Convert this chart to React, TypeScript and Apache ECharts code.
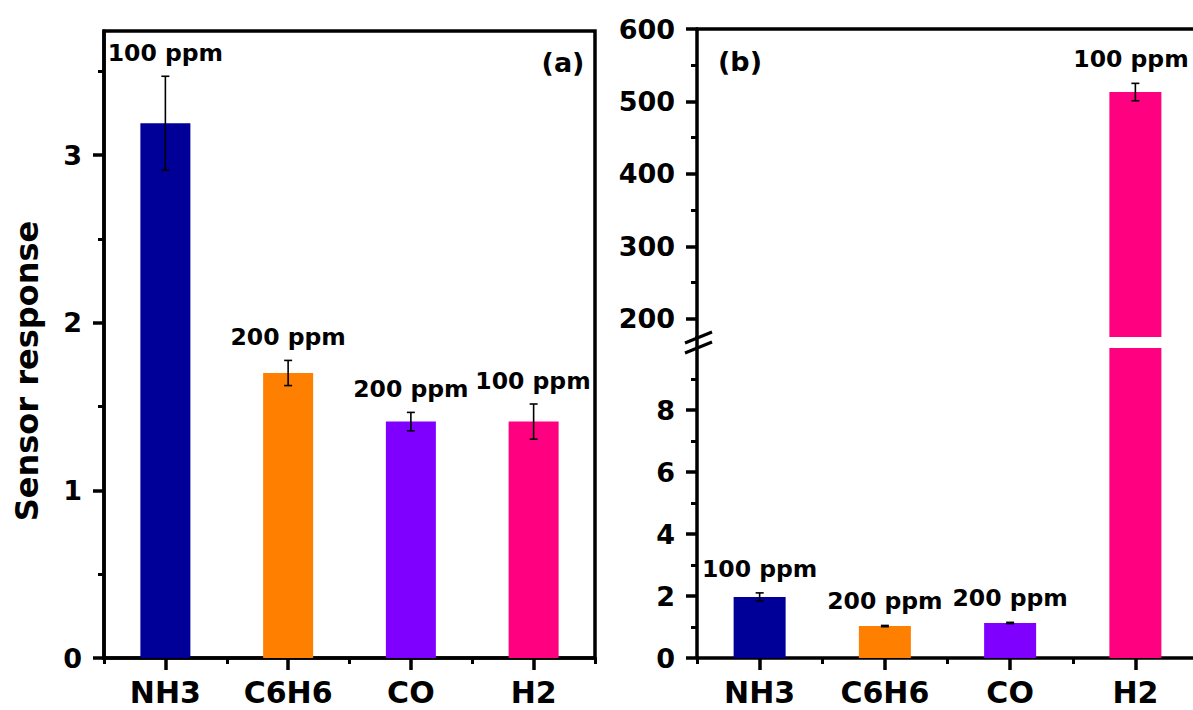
import React, { useEffect, useRef } from 'react';
import * as echarts from 'echarts';

const categories = ['NH3', 'C6H6', 'CO', 'H2'];
const concentrations = ['100 ppm', '200 ppm', '200 ppm', '100 ppm'];
const barColors = ['#000099', '#FF8000', '#8000FF', '#FF0080'];

// panel (a)
const responseA = [3.19, 1.7, 1.41, 1.41];
const errorA = [0.28, 0.075, 0.055, 0.105];
const ticksA = [0, 1, 2, 3];
const minorTicksA = [0.5, 1.5, 2.5, 3.5];

// panel (b)
const responseB = [1.97, 1.03, 1.13, 513];
const errorB = [0.13, 0.02, 0.02, 12];
const ticksBHigh = [200, 300, 400, 500, 600];
const minorTicksBHigh = [250, 350, 450, 550];
const ticksBLow = [0, 2, 4, 6, 8];
const minorTicksBLow = [1, 3, 5, 7, 9];

const FONT = 'DejaVu Sans';
const AXW = 3.5;
const LABEL_FONT_SIZE = 23.5;

function makeErrorRender(labels: string[], dy: number) {
  return (params: any, api: any) => {
    const i = api.value(0);
    const v = api.value(1);
    const e = api.value(2);
    const cs = params.coordSys;
    const top = api.coord([i, v + e]);
    const bot = api.coord([i, v - e]);
    if (top[1] < cs.y - 2 || top[1] > cs.y + cs.height + 2) return null;
    const cap = 4;
    const x = top[0];
    const text = labels[params.dataIndex];
    const halfW = echarts.format.getTextRect
      ? 0
      : 0;
    const tw = (echarts as any).format && (echarts as any).format.getTextRect
      ? 0
      : 0;
    void halfW; void tw;
    const estHalf = 58;
    const rightLimit = Math.min(cs.x + cs.width, api.getWidth()) - 4 - estHalf;
    const lx = Math.min(x, rightLimit);
    return {
      type: 'group',
      children: [
        { type: 'line', shape: { x1: x, y1: top[1], x2: x, y2: bot[1] }, style: { stroke: '#000', lineWidth: 1.6 } },
        { type: 'line', shape: { x1: x - cap, y1: top[1], x2: x + cap, y2: top[1] }, style: { stroke: '#000', lineWidth: 1.6 } },
        { type: 'line', shape: { x1: x - cap, y1: bot[1], x2: x + cap, y2: bot[1] }, style: { stroke: '#000', lineWidth: 1.6 } },
        {
          type: 'text',
          x: lx,
          y: top[1] - dy,
          style: {
            text,
            fill: '#000',
            font: `bold ${LABEL_FONT_SIZE}px "${FONT}"`,
            align: 'center',
            verticalAlign: 'middle',
          },
        },
      ],
    };
  };
}

const catAxisMajor = (gridIndex: number) => ({
  type: 'category',
  gridIndex,
  data: categories,
  position: 'bottom',
  axisLine: { show: true, lineStyle: { color: '#000', width: AXW } },
  axisTick: { show: true, alignWithLabel: true, length: 12, lineStyle: { color: '#000', width: AXW } },
  axisLabel: { show: true, color: '#000', fontSize: 30, fontWeight: 'bold', fontFamily: FONT, margin: 19 },
  splitLine: { show: false },
});

const catAxisMinor = (gridIndex: number) => ({
  type: 'category',
  gridIndex,
  data: categories,
  position: 'bottom',
  axisLine: { show: false },
  axisTick: { show: true, length: 6, lineStyle: { color: '#000', width: 3 } },
  axisLabel: { show: false },
  splitLine: { show: false },
});

const valAxisMajor = (gridIndex: number, min: number, max: number, ticks: number[]) => ({
  type: 'value',
  gridIndex,
  position: 'left',
  min,
  max,
  axisLine: { show: true, lineStyle: { color: '#000', width: AXW } },
  axisTick: { show: true, customValues: ticks, length: 11, lineStyle: { color: '#000', width: AXW } },
  axisLabel: { show: true, customValues: ticks, color: '#000', fontSize: 27, fontWeight: 'bold', fontFamily: FONT, margin: 22 },
  splitLine: { show: false },
});

const valAxisMinor = (gridIndex: number, min: number, max: number, ticks: number[]) => ({
  type: 'value',
  gridIndex,
  position: 'left',
  offset: 0,
  min,
  max,
  axisLine: { show: false },
  axisTick: { show: true, inside: false, customValues: ticks, length: 6, lineStyle: { color: '#000', width: 3 } },
  axisLabel: { show: false },
  splitLine: { show: false },
});

export default function App() {
  const ref = useRef<HTMLDivElement>(null);

  useEffect(() => {
    document.body.style.margin = '0';
    if (!ref.current) return;
    const chart = echarts.init(ref.current, null, { renderer: 'svg' });

    const barDataA = responseA.map((v, i) => ({ value: v, itemStyle: { color: barColors[i] } }));
    const barDataB = responseB.map((v, i) => ({ value: v, itemStyle: { color: barColors[i] } }));
    const errDataA = responseA.map((v, i) => [i, v, errorA[i]]);
    const errDataB = responseB.map((v, i) => [i, v, errorB[i]]);

    const option: any = {
      animation: false,
      backgroundColor: '#fff',
      grid: [
        { left: 104, top: 31, width: 491, height: 627, show: true, borderColor: '#000', borderWidth: AXW, backgroundColor: 'transparent', outerBoundsMode: 'none' },
        { left: 697, top: 29, width: 501, height: 308, outerBoundsMode: 'none' },
        { left: 697, top: 348, width: 501, height: 310, outerBoundsMode: 'none' },
      ],
      xAxis: [
        catAxisMajor(0),
        catAxisMinor(0),
        {
          type: 'category',
          gridIndex: 1,
          data: categories,
          position: 'top',
          axisLine: { show: true, lineStyle: { color: '#000', width: AXW } },
          axisTick: { show: false },
          axisLabel: { show: false },
          splitLine: { show: false },
        },
        catAxisMajor(2),
        catAxisMinor(2),
      ],
      yAxis: [
        valAxisMajor(0, 0, 3.74, ticksA),
        valAxisMinor(0, 0, 3.74, minorTicksA),
        valAxisMajor(1, 175, 600, ticksBHigh),
        valAxisMinor(1, 175, 600, minorTicksBHigh),
        valAxisMajor(2, 0, 10, ticksBLow),
        valAxisMinor(2, 0, 10, minorTicksBLow),
      ],
      series: [
        { type: 'bar', xAxisIndex: 0, yAxisIndex: 0, barWidth: 50, data: barDataA, clip: true },
        {
          type: 'custom', xAxisIndex: 0, yAxisIndex: 0, data: errDataA,
          encode: { x: 0, y: 1 }, renderItem: makeErrorRender(concentrations, 23), z: 5,
        },
        { type: 'bar', xAxisIndex: 2, yAxisIndex: 2, barWidth: 52, data: barDataB, clip: true },
        {
          type: 'custom', xAxisIndex: 2, yAxisIndex: 2, data: errDataB,
          encode: { x: 0, y: 1 }, renderItem: makeErrorRender(concentrations, 24), z: 5,
        },
        { type: 'bar', xAxisIndex: 3, yAxisIndex: 4, barWidth: 52, data: barDataB, clip: true },
        {
          type: 'custom', xAxisIndex: 3, yAxisIndex: 4, data: errDataB,
          encode: { x: 0, y: 1 }, renderItem: makeErrorRender(concentrations, 24), z: 5,
        },
      ],
      graphic: [
        {
          type: 'text', x: 27, y: 371, rotation: Math.PI / 2,
          style: { text: 'Sensor response', fill: '#000', font: `bold 32px "${FONT}"`, align: 'center', verticalAlign: 'middle' },
        },
        {
          type: 'text', x: 563, y: 62,
          style: { text: '(a)', fill: '#000', font: `bold 27px "${FONT}"`, align: 'center', verticalAlign: 'middle' },
        },
        {
          type: 'text', x: 740, y: 61,
          style: { text: '(b)', fill: '#000', font: `bold 27px "${FONT}"`, align: 'center', verticalAlign: 'middle' },
        },
        { type: 'line', shape: { x1: 697, y1: 336, x2: 697, y2: 349 }, style: { stroke: '#000', lineWidth: AXW } },
        { type: 'line', shape: { x1: 685, y1: 343, x2: 712, y2: 332 }, style: { stroke: '#000', lineWidth: 3 } },
        { type: 'line', shape: { x1: 685, y1: 353, x2: 712, y2: 342 }, style: { stroke: '#000', lineWidth: 3 } },
      ],
    };

    chart.setOption(option);
    return () => chart.dispose();
  }, []);

  return <div ref={ref} style={{ width: 1193, height: 710 }} />;
}
